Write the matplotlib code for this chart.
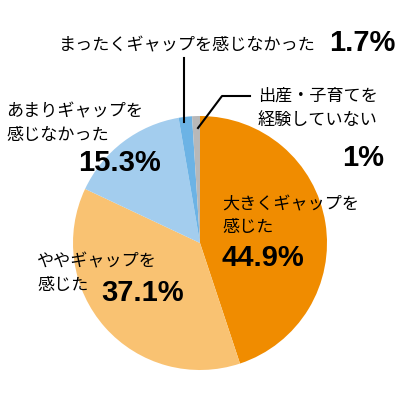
import matplotlib
matplotlib.use("Agg")
import matplotlib.pyplot as plt

plt.rcParams['font.family'] = ['Noto Sans CJK JP', 'DejaVu Sans']

labels = ["大きくギャップを\n感じた", "ややギャップを\n感じた", "あまりギャップを\n感じなかった",
          "まったくギャップを感じなかった", "出産・子育てを\n経験していない"]
values = [44.9, 37.1, 15.3, 1.7, 1.0]
pct_labels = ["44.9%", "37.1%", "15.3%", "1.7%", "1%"]
colors = ["#F08C00", "#F9C272", "#A3CDEE", "#6CB3E5", "#B8B8B8"]

fig = plt.figure(figsize=(4, 4), dpi=100)
ax = fig.add_axes([0, 0, 1, 1])

def Y(py):
    return 400 - py

ax.pie(values, colors=colors, startangle=90, counterclock=False,
       center=(200, Y(243)), radius=127, wedgeprops=dict(linewidth=0),
       frame=True)
ax.set_xlim(0, 400)
ax.set_ylim(0, 400)
ax.set_aspect('equal')
ax.axis('off')

fs = 12.3
nfs = 21
num_font = ['Liberation Sans', 'DejaVu Sans']

def label(x, y_first, text, step=24):
    for i, line in enumerate(text.split("\n")):
        ax.text(x, Y(y_first + i * step), line, fontsize=fs, ha='left', va='center')

def pct(x, y, text):
    ax.text(x, Y(y), text, fontsize=nfs, fontweight='bold', family=num_font,
            ha='left', va='center')

label(222, 204, labels[0], 23)
pct(221, 258, pct_labels[0])

label(37, 261, labels[1], 24)
pct(101, 293, pct_labels[1])

label(6, 111, labels[2], 24)
pct(78, 163, pct_labels[2])

label(59, 45, labels[3])
pct(329, 43, pct_labels[3])

label(258, 96, labels[4], 24)
pct(342, 158, pct_labels[4])

# leader lines
ax.plot([184, 184], [Y(58), Y(122)], color='black', lw=1.5)
ax.plot([198, 222, 250], [Y(128), Y(96), Y(96)], color='black', lw=1.5)

fig.savefig("out.png", dpi=100)
